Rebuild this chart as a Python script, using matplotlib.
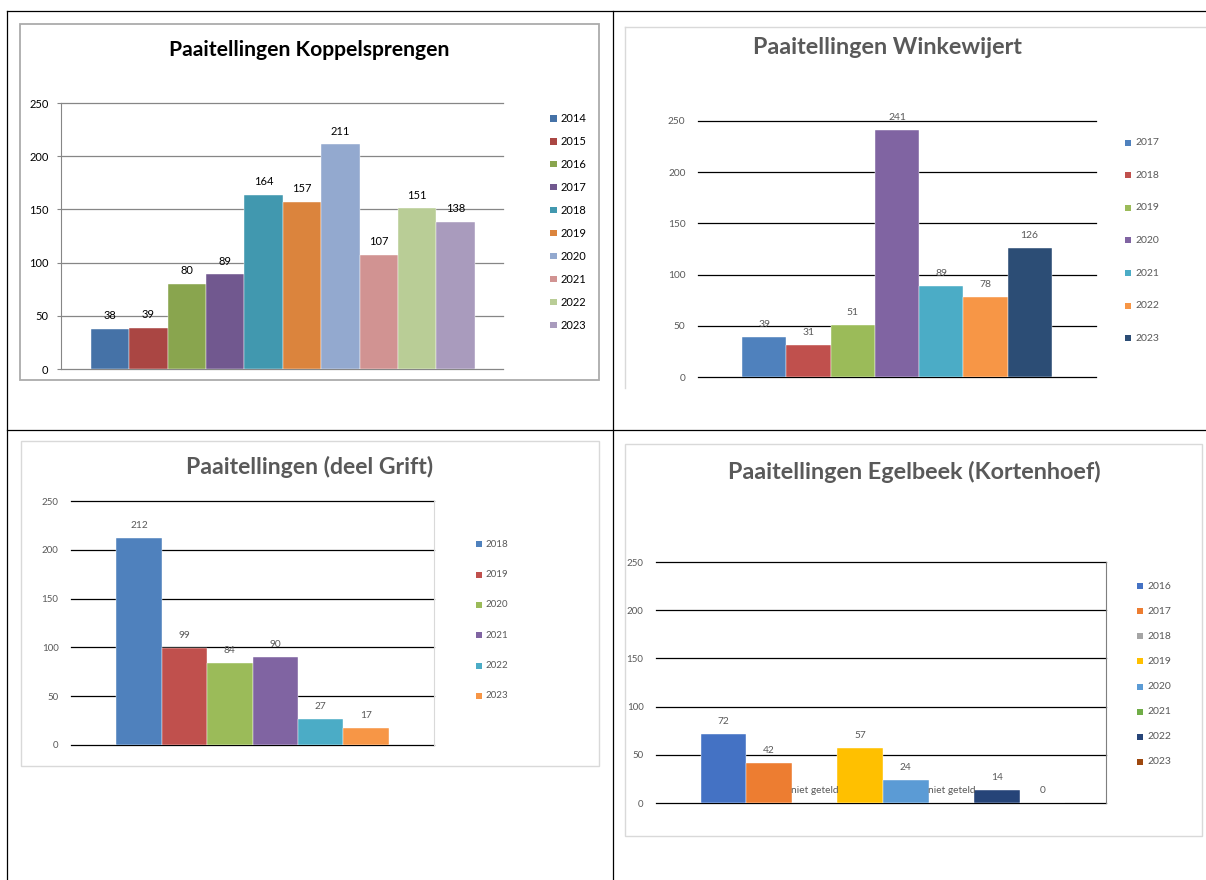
import matplotlib.pyplot as plt
from matplotlib.lines import Line2D
from matplotlib.patches import Rectangle

plt.rcParams['font.family'] = ['Lato', 'DejaVu Sans']

W, H = 1206, 880

# Koppelsprengen
kop_years = ["2014", "2015", "2016", "2017", "2018", "2019", "2020", "2021", "2022", "2023"]
kop_counts = [38, 39, 80, 89, 164, 157, 211, 107, 151, 138]
kop_colors = ["#4572A7", "#AA4643", "#89A54E", "#71588F", "#4198AF",
              "#DB843D", "#93A9CF", "#D19392", "#B9CD96", "#A99BBD"]

# Winkewijert
win_years = ["2017", "2018", "2019", "2020", "2021", "2022", "2023"]
win_counts = [39, 31, 51, 241, 89, 78, 126]
win_colors = ["#4F81BD", "#C0504D", "#9BBB59", "#8064A2", "#4BACC6", "#F79646", "#2C4D75"]

# deel Grift
gri_years = ["2018", "2019", "2020", "2021", "2022", "2023"]
gri_counts = [212, 99, 84, 90, 27, 17]
gri_colors = ["#4F81BD", "#C0504D", "#9BBB59", "#8064A2", "#4BACC6", "#F79646"]

# Egelbeek (Kortenhoef), None = niet geteld
ege_years = ["2016", "2017", "2018", "2019", "2020", "2021", "2022", "2023"]
ege_counts = [72, 42, None, 57, 24, None, 14, 0]
ege_colors = ["#4472C4", "#ED7D31", "#A5A5A5", "#FFC000", "#5B9BD5", "#70AD47", "#264478", "#9E480E"]

yticks = [0, 50, 100, 150, 200, 250]

fig = plt.figure(figsize=(W / 100, H / 100), dpi=100)


def fx(x):
    return x / W


def fy(y):
    return 1 - y / H


def line(x0, y0, x1, y1, color="black", lw=0.9):
    fig.add_artist(Line2D([fx(x0), fx(x1)], [fy(y0), fy(y1)], color=color, lw=lw))


def rect(x0, y0, x1, y1, edge, lw):
    fig.add_artist(Rectangle((fx(x0), fy(y1)), fx(x1) - fx(x0), fy(y0) - fy(y1),
                             fill=False, edgecolor=edge, lw=lw))


def bar_chart(box, years, counts, colors, gaps, grid_color, grid_lw,
              tick_color, tick_size, lab_color, lab_size, lab_off):
    x0, y0, x1, y1 = box
    ax = fig.add_axes([fx(x0), fy(y1), fx(x1) - fx(x0), fy(y0) - fy(y1)])
    n = len(counts)
    heights = [0 if v is None else v for v in counts]
    ax.bar(range(n), heights, width=1.0, color=colors, edgecolor="white", lw=0.3)
    ax.set_xlim(-0.5 - gaps[0], n - 0.5 + gaps[1])
    ax.set_ylim(0, 250)
    ax.set_yticks(yticks)
    ax.set_xticks([])
    ax.grid(axis="y", color=grid_color, lw=grid_lw)
    for gl in ax.get_ygridlines():
        gl.set_clip_on(False)
    ax.set_axisbelow(True)
    for s in ax.spines.values():
        s.set_visible(False)
    ax.patch.set_alpha(0)
    ax.tick_params(axis="y", length=0, pad=9, labelsize=tick_size, labelcolor=tick_color)
    for i, v in enumerate(counts):
        txt = "niet geteld" if v is None else str(v)
        ax.annotate(txt, (i, heights[i]), xytext=(0, lab_off), textcoords="offset points",
                    ha="center", va="center", fontsize=lab_size, color=lab_color)
    return ax


def legend(years, colors, sq_x, txt_x, y0, dy, size, color, sq=6.5):
    for i, (yr, c) in enumerate(zip(years, colors)):
        yc = y0 + i * dy
        fig.add_artist(Rectangle((fx(sq_x), fy(yc + sq / 2)), sq / W, sq / H,
                                 facecolor=c, edgecolor="none"))
        fig.text(fx(txt_x), fy(yc), yr, ha="left", va="center", fontsize=size, color=color)


# table lines
line(7, 11.5, 1206, 11.5)
line(7, 11.5, 7, 880)
line(612.5, 11.5, 612.5, 880)
line(7, 430, 1206, 430)

# chart 1
rect(20, 24, 599, 380, "#ABABAB", 1.3)
fig.text(fx(309), fy(50), "Paaitellingen Koppelsprengen", ha="center", va="center",
         fontsize=15.2, fontweight="bold", color="black")
ax1 = bar_chart((61, 103, 503, 369), kop_years, kop_counts, kop_colors, (0.78, 0.74),
                "#868686", 0.9, "black", 8, "black", 8, 9.5)
ax1.spines["left"].set_visible(True)
ax1.spines["left"].set_color("#868686")
ax1.tick_params(axis="y", length=3, color="#868686", pad=6)
legend(kop_years, kop_colors, 550, 561, 118.3, 22.97, 8, "black")

# chart 2
line(625, 27, 1206, 27, "#D9D9D9", 1)
line(625, 27, 625, 388, "#D9D9D9", 1)
fig.text(fx(887), fy(47), "Paaitellingen Winkewijert", ha="center", va="center",
         fontsize=16.8, fontweight="bold", color="#595959")
bar_chart((698, 121, 1096, 377), win_years, win_counts, win_colors, (1.0, 1.0),
          "black", 0.9, "#595959", 7.3, "#595959", 7.5, 9)
legend(win_years, win_colors, 1125, 1135, 142.7, 32.6, 7.5, "#595959", 6)

# chart 3
rect(20.5, 441, 599, 766, "#D9D9D9", 1)
fig.text(fx(310), fy(467), "Paaitellingen (deel Grift)", ha="center", va="center",
         fontsize=16.6, fontweight="bold", color="#595959")
ax3 = bar_chart((71, 501, 434, 745), gri_years, gri_counts, gri_colors, (1.0, 1.0),
                "black", 0.9, "#595959", 7, "#595959", 7.3, 9)
ax3.spines["right"].set_visible(True)
ax3.spines["right"].set_color("#D9D9D9")
legend(gri_years, gri_colors, 476, 486, 544.3, 30.3, 7, "#595959", 6)

# chart 4
rect(625, 444, 1202, 836, "#D9D9D9", 1)
fig.text(fx(914), fy(472), "Paaitellingen Egelbeek (Kortenhoef)", ha="center", va="center",
         fontsize=16.8, fontweight="bold", color="#595959")
ax4 = bar_chart((656, 562, 1106, 803), ege_years, ege_counts, ege_colors, (0.98, 0.89),
                "black", 0.9, "#595959", 7, "#595959", 7.3, 9)
ax4.spines["right"].set_visible(True)
ax4.spines["right"].set_color("#7F7F7F")
legend(ege_years, ege_colors, 1137, 1147, 586.3, 25.06, 7.5, "#595959", 6)

fig.savefig("out.png", dpi=100)
